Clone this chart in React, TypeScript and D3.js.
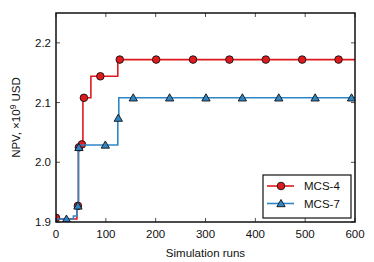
import React from "react";
import * as d3 from "d3";

// step lines (best NPV so far), breakpoints
const mcs4Runs = [0, 42, 45, 54, 70, 124, 600];
const mcs4Npv = [1.905, 1.927, 2.028, 2.108, 2.144, 2.172, 2.172];
const mcs7Runs = [0, 35, 42, 45, 124, 126, 600];
const mcs7Npv = [1.905, 1.91, 1.927, 2.029, 2.074, 2.108, 2.108];

// marker positions
const mcs4MarkRuns = [0, 44, 46, 52, 56, 89, 128, 201, 275, 348, 421, 494, 567];
const mcs4MarkNpv = [1.907, 1.927, 2.025, 2.03, 2.108, 2.144, 2.172, 2.172, 2.172, 2.172, 2.172, 2.172, 2.172];
const mcs7MarkRuns = [21, 44, 46, 99, 125, 155, 228, 301, 374, 447, 520, 593];
const mcs7MarkNpv = [1.905, 1.927, 2.025, 2.029, 2.074, 2.108, 2.108, 2.108, 2.108, 2.108, 2.108, 2.108];

const xTicks = [0, 100, 200, 300, 400, 500, 600];
const yTicks = [1.9, 2.0, 2.1, 2.2];

const RED = "#e0191f";
const BLUE = "#2f86c6";
const FONT = "Liberation Sans, Arial, sans-serif";

export default function App() {
  const W = 374, H = 262;
  const m = { left: 56, right: 19, top: 13, bottom: 40 };
  const pw = W - m.left - m.right;
  const ph = H - m.top - m.bottom;

  const x = d3.scaleLinear().domain([0, 600]).range([m.left, m.left + pw]);
  const y = d3.scaleLinear().domain([1.9, 2.25]).range([m.top + ph, m.top]);

  const path = (runs: number[], npv: number[]) =>
    d3.line<number>()
      .x(i => x(runs[i]))
      .y(i => y(npv[i]))
      .curve(d3.curveStepAfter)(d3.range(runs.length)) || "";

  const tri = d3.symbol().type(d3.symbolTriangle).size(30)() || "";

  const series = [
    { name: "MCS-4", color: RED, runs: mcs4Runs, npv: mcs4Npv, mr: mcs4MarkRuns, mn: mcs4MarkNpv, shape: "circle" },
    { name: "MCS-7", color: BLUE, runs: mcs7Runs, npv: mcs7Npv, mr: mcs7MarkRuns, mn: mcs7MarkNpv, shape: "tri" },
  ];

  const marker = (shape: string, color: string, cx: number, cy: number, key?: any) =>
    shape === "circle" ? (
      <circle key={key} cx={cx} cy={cy} r={3.8} fill={color} stroke="#111" strokeWidth={0.9} />
    ) : (
      <path key={key} d={tri} transform={`translate(${cx},${cy + 0.8})`} fill={color} stroke="#111" strokeWidth={0.9} />
    );

  const x0 = m.left, x1 = m.left + pw, y0 = m.top + ph, y1 = m.top;

  return (
    <svg width={W} height={H} style={{ position: "absolute", left: 0, top: 0 }} fontFamily={FONT}>
      <rect width={W} height={H} fill="#fff" />
      <defs>
        <clipPath id="plot">
          <rect x={x0} y={y1} width={pw} height={ph} />
        </clipPath>
      </defs>
      <g clipPath="url(#plot)">
        {series.map(s => (
          <g key={s.name}>
            <path d={path(s.runs, s.npv)} fill="none" stroke={s.color} strokeWidth={1.6} />
            {s.mr.map((r, i) => marker(s.shape, s.color, x(r), y(s.mn[i]), i))}
          </g>
        ))}
      </g>
      {/* ticks, inward on all sides */}
      {xTicks.map(t => (
        <g key={"x" + t}>
          <line x1={x(t)} x2={x(t)} y1={y0} y2={y0 - 4} stroke="#222" strokeWidth={0.8} />
          <line x1={x(t)} x2={x(t)} y1={y1} y2={y1 + 4} stroke="#222" strokeWidth={0.8} />
          <text x={x(t)} y={y0 + 15.5} fontSize={11.5} textAnchor="middle" fill="#111">{t}</text>
        </g>
      ))}
      {yTicks.map(t => (
        <g key={"y" + t}>
          <line x1={x0} x2={x0 + 4} y1={y(t)} y2={y(t)} stroke="#222" strokeWidth={0.8} />
          <line x1={x1} x2={x1 - 4} y1={y(t)} y2={y(t)} stroke="#222" strokeWidth={0.8} />
          <text x={x0 - 5} y={y(t) + 4} fontSize={11.5} textAnchor="end" fill="#111">{t.toFixed(1)}</text>
        </g>
      ))}
      <rect x={x0} y={y1} width={pw} height={ph} fill="none" stroke="#111" strokeWidth={1.5} />
      <text x={x0 + pw / 2} y={H - 5} fontSize={11.5} textAnchor="middle" fill="#111">Simulation runs</text>
      <text transform={`translate(20,${y1 + ph / 2}) rotate(-90)`} fontSize={11.5} textAnchor="middle" fill="#111">
        NPV, ×10<tspan dy={-4} fontSize={8.5}>9</tspan><tspan dy={4}> USD</tspan>
      </text>
      {/* legend */}
      <g>
        <rect x={263} y={175} width={88} height={43} fill="#fff" stroke="#111" strokeWidth={1.2} />
        {series.map((s, i) => {
          const ly = 186 + i * 17.5;
          return (
            <g key={"l" + s.name}>
              <line x1={267} x2={294} y1={ly} y2={ly} stroke={s.color} strokeWidth={1.6} />
              {marker(s.shape, s.color, 281, ly)}
              <text x={304} y={ly + 4} fontSize={11.5} fill="#111">{s.name}</text>
            </g>
          );
        })}
      </g>
    </svg>
  );
}
